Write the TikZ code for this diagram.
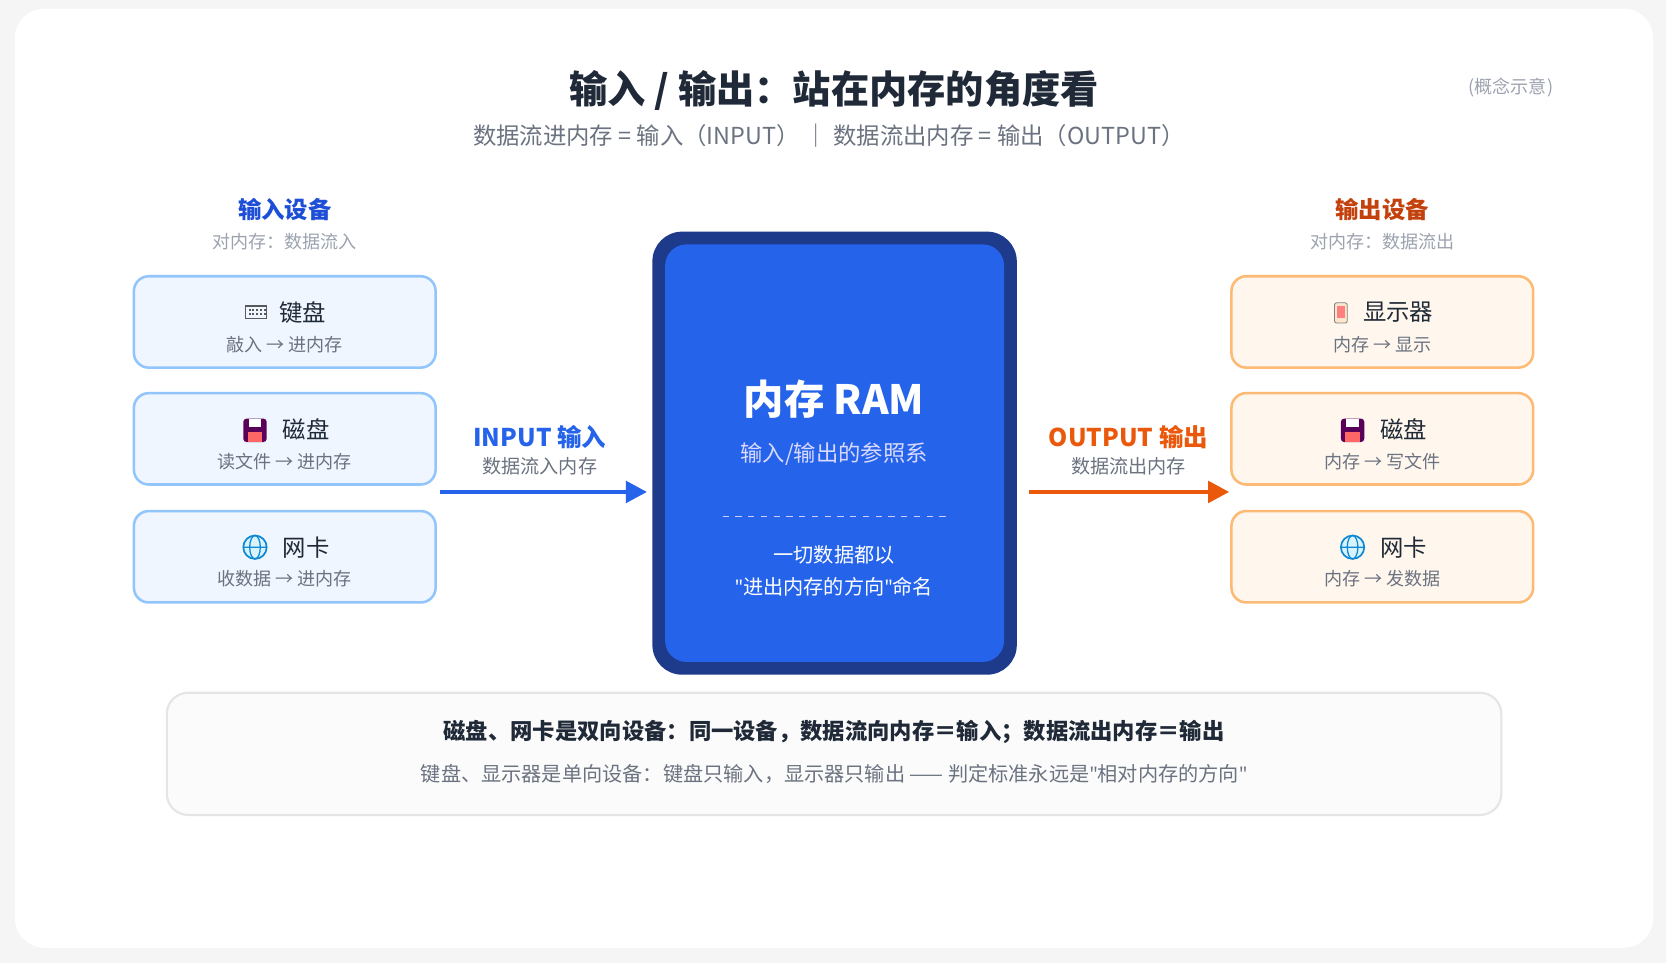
\documentclass[tikz,border=0pt]{standalone}
\usepackage{fontspec}
\setmainfont{Noto Sans CJK SC}
\newfontfamily\latinqf{Noto Sans}
\usetikzlibrary{arrows.meta,positioning}
\definecolor{inblue}{HTML}{2563EB}
\definecolor{inhead}{HTML}{1D4ED8}
\definecolor{inedge}{HTML}{93C5FD}
\definecolor{infill}{HTML}{EFF6FF}
\definecolor{outorg}{HTML}{EA580C}
\definecolor{outhead}{HTML}{C2410C}
\definecolor{outedge}{HTML}{FDBA74}
\definecolor{outfill}{HTML}{FFF7ED}
\definecolor{ramdark}{HTML}{1E3A8A}
\definecolor{txtdark}{HTML}{1F2937}
\definecolor{txtgray}{HTML}{6B7280}
\definecolor{txtlight}{HTML}{9CA3AF}
\newcommand{\dq}{{\latinqf\symbol{34}}}
\tikzset{
  inbox/.style={draw=inedge, fill=infill, line width=1.2pt, rounded corners=7pt, minimum width=142pt, minimum height=43pt},
  outbox/.style={draw=outedge, fill=outfill, line width=1.2pt, rounded corners=7pt, minimum width=142pt, minimum height=43pt},
  dev/.style={font=\fontsize{11}{13}\selectfont, text=txtdark},
  devsub/.style={font=\fontsize{8.5}{10}\selectfont, text=txtgray},
  flow/.style={line width=2.2pt, -{Triangle[length=10pt,width=10pt]}},
}
\begin{document}
\begin{tikzpicture}[x=0.5pt,y=-0.5pt]
\useasboundingbox (0,0) rectangle (1568,906);
\fill[gray!8] (0,0) rectangle (1568,906);
\fill[white, rounded corners=14pt] (14,8) rectangle (1556,892);

% titles
\node (title) at (785,85) {\fontsize{18}{21}\selectfont\bfseries\color{txtdark}输入 / 输出：站在内存的角度看};
\node (subtitle) at (780,128) {\fontsize{11}{13}\selectfont\color{txtgray}数据流进内存 = 输入（INPUT） ｜ 数据流出内存 = 输出（OUTPUT）};
\node (note) at (1422,82) {\fontsize{8.5}{10}\selectfont\color{txtlight}(概念示意)};

% headers
\node (inhd) at (268,197) {\fontsize{11}{13}\selectfont\bfseries\color{inhead}输入设备};
\node (insub) at (268,227) {\fontsize{8.5}{10}\selectfont\color{txtlight}对内存：数据流入};
\node (outhd) at (1301,197) {\fontsize{11}{13}\selectfont\bfseries\color{outhead}输出设备};
\node (outsub) at (1301,227) {\fontsize{8.5}{10}\selectfont\color{txtlight}对内存：数据流出};

% input devices
\node[inbox] (kb) at (268,303) {};
\node[inbox] (dkin) at (268,413) {};
\node[inbox] (nicin) at (268,524) {};
\node[dev] (kbt) at (285,294) {键盘};
\node[devsub] (kbs) at (268,324) {敲入 → 进内存};
\node[dev] (dkint) at (288,404) {磁盘};
\node[devsub] (dkins) at (268,434) {读文件 → 进内存};
\node[dev] (nicint) at (288,515) {网卡};
\node[devsub] (nicins) at (268,545) {收数据 → 进内存};

% output devices
\node[outbox] (mon) at (1301,303) {};
\node[outbox] (dkout) at (1301,413) {};
\node[outbox] (nicout) at (1301,524) {};
\node[dev] (mont) at (1316,294) {显示器};
\node[devsub] (mons) at (1301,324) {内存 → 显示};
\node[dev] (dkoutt) at (1321,404) {磁盘};
\node[devsub] (dkouts) at (1301,434) {内存 → 写文件};
\node[dev] (nicoutt) at (1321,515) {网卡};
\node[devsub] (nicouts) at (1301,545) {内存 → 发数据};

% icons
\draw[gray!70!black, line width=0.6pt] (231,288) rectangle (251,300);
\foreach \i in {0,1,2,3,4}{\fill[gray!70!black] (234+\i*3.5,291) rectangle +(2,1.5); \fill[gray!70!black] (234+\i*3.5,294.5) rectangle +(2,1.5);}
\foreach \cx in {240,1273}{
  \fill[violet!70!black, rounded corners=1.5pt] (\cx-11,394) rectangle (\cx+11,416);
  \fill[white] (\cx-6,394) rectangle (\cx+6,402);
  \fill[red!60] (\cx-7,407) rectangle (\cx+7,416);
  \draw[cyan!70!blue, fill=cyan!15, line width=0.8pt] (\cx,515) circle (11);
  \draw[cyan!70!blue, line width=0.6pt] (\cx,515) ellipse (5 and 11) (\cx-11,515) -- (\cx+11,515);
}
\draw[gray, fill=orange!20, rounded corners=1pt] (1256,285) rectangle (1268,304);
\fill[red!50] (1258,288) rectangle (1266,299);

% RAM
\fill[ramdark, rounded corners=14pt] (614,218) rectangle (957,635);
\fill[inblue, rounded corners=10pt] (626,230) rectangle (945,623);
\node (ram) at (785,376) {\fontsize{19}{22}\selectfont\bfseries\color{white}内存 RAM};
\node (ramsub) at (785,427) {\fontsize{10.5}{12}\selectfont\color{blue!15}输入/输出的参照系};
\draw[blue!20, dashed, line width=0.8pt] (680,486) -- (890,486);
\node[align=center, font=\fontsize{9.5}{15}\selectfont, text=white] (ramnote) at (785,537) {一切数据都以\\\dq 进出内存的方向\dq 命名};

% flows
\coordinate (inA) at (414,463);
\coordinate (inB) at (609,463);
\coordinate (outA) at (968,463);
\coordinate (outB) at (1157,463);
\draw[flow, inblue] (inA) -- (inB);
\draw[flow, outorg] (outA) -- (outB);
\node (inlbl) at (508,411) {\fontsize{11.5}{13}\selectfont\bfseries\color{inblue}INPUT 输入};
\node (inlbls) at (508,439) {\fontsize{9}{11}\selectfont\color{txtgray}数据流入内存};
\node (outlbl) at (1062,411) {\fontsize{11.5}{13}\selectfont\bfseries\color{outorg}OUTPUT 输出};
\node (outlbls) at (1062,439) {\fontsize{9}{11}\selectfont\color{txtgray}数据流出内存};

% bottom note
\draw[gray!20, fill=gray!3, line width=1pt, rounded corners=10pt] (157,652) rectangle (1413,767);
\node (bot1) at (785,689) {\fontsize{10.5}{12}\selectfont\bfseries\color{txtdark}磁盘、网卡是双向设备：同一设备，数据流向内存＝输入；数据流出内存＝输出};
\node (bot2) at (785,728) {\fontsize{9.5}{11}\selectfont\color{txtgray}键盘、显示器是单向设备：键盘只输入，显示器只输出 —— 判定标准永远是\dq 相对内存的方向\dq};
\end{tikzpicture}
\end{document}
